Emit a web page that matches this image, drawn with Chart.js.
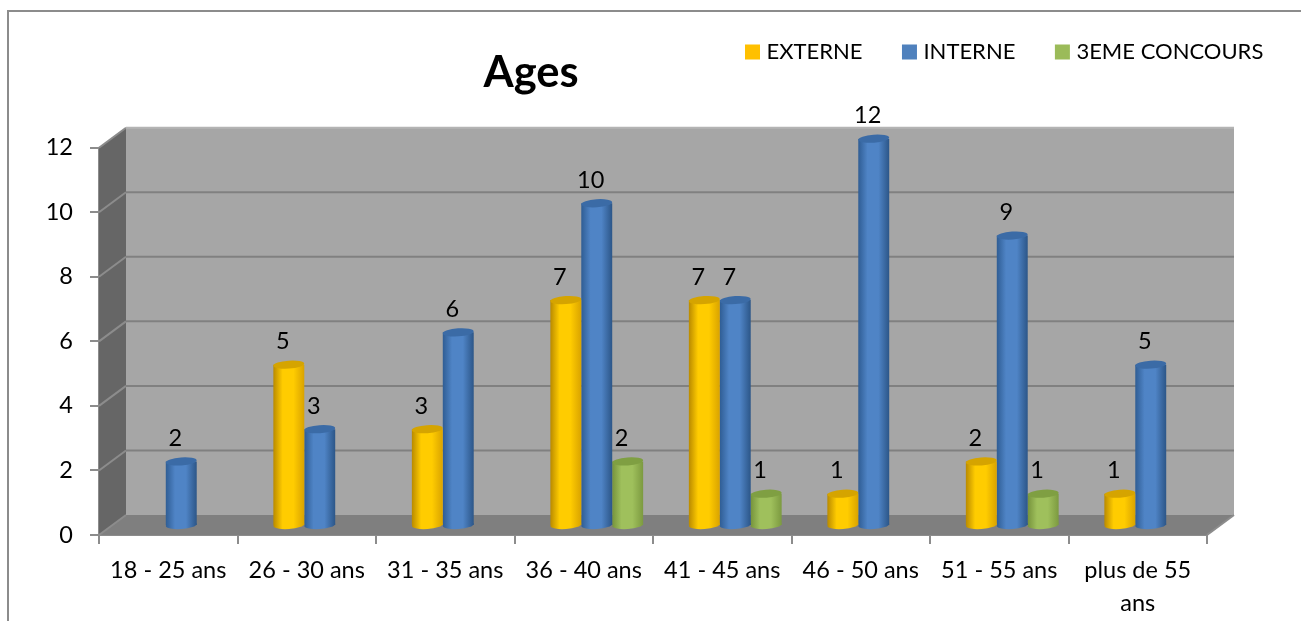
<!DOCTYPE html>
<html>
<head>
<meta charset="utf-8">
<title>Ages</title>
<script src="https://cdn.jsdelivr.net/npm/chart.js@4"></script>
<style>
  html, body { margin: 0; padding: 0; background: #fff; overflow: hidden; }
  canvas { display: block; }
</style>
</head>
<body>
<canvas id="ages" width="1301" height="621"></canvas>
<script>
var categories = ['18 - 25 ans', '26 - 30 ans', '31 - 35 ans', '36 - 40 ans', '41 - 45 ans', '46 - 50 ans', '51 - 55 ans', ['plus de 55', 'ans']];
var externe = [null, 5, 3, 7, 7, 1, 2, 1];
var interne = [2, 3, 6, 10, 7, 12, 9, 5];
var concours = [null, null, null, 2, 1, null, 1, null];
var yTicks = [0, 2, 4, 6, 8, 10, 12];

var fontName = 'Lato, "Open Sans", sans-serif';
var fontSize = 23.5;
var legendFontSize = 22;
var legendGap = 44;

// cylinder shades per series: edge left, middle, edge right, top cap
var shades = [
    ['#b98a00', '#ffcc00', '#d9a300', '#d5a400'],
    ['#2f5d94', '#4f84c6', '#2c5688', '#3b6ba6'],
    ['#76933c', '#9fc05c', '#7c9a40', '#7f9f42']
];

// how far the bars sit behind the front axes, and the back wall
var barShift = { x: 13, y: -9 };
var wallShift = { x: 27, y: -20 };

// gray box, side wall, floor and back grid lines
var wallsPlugin = {
    id: 'walls',
    beforeDatasetsDraw: function (chart) {
        var ctx = chart.ctx;
        var area = chart.chartArea;
        var y = chart.scales.y;
        var dx = wallShift.x, dy = wallShift.y;

        ctx.save();
        // frame of the picture
        ctx.strokeStyle = '#8c8c8c';
        ctx.lineWidth = 2;
        ctx.beginPath();
        ctx.moveTo(8, 621);
        ctx.lineTo(8, 11);
        ctx.lineTo(1301, 11);
        ctx.stroke();

        ctx.fillStyle = '#a6a6a6';
        ctx.fillRect(area.left + dx, area.top + dy, area.width, area.height);

        ctx.fillStyle = '#666666';
        ctx.beginPath();
        ctx.moveTo(area.left, area.top);
        ctx.lineTo(area.left + dx, area.top + dy);
        ctx.lineTo(area.left + dx, area.bottom + dy);
        ctx.lineTo(area.left, area.bottom);
        ctx.closePath();
        ctx.fill();

        ctx.fillStyle = '#7f7f7f';
        ctx.beginPath();
        ctx.moveTo(area.left, area.bottom);
        ctx.lineTo(area.left + dx, area.bottom + dy);
        ctx.lineTo(area.right + dx, area.bottom + dy);
        ctx.lineTo(area.right, area.bottom);
        ctx.closePath();
        ctx.fill();

        ctx.lineWidth = 2;
        yTicks.forEach(function (t) {
            var py = y.getPixelForValue(t);
            ctx.strokeStyle = '#8c8c8c';
            ctx.beginPath();
            ctx.moveTo(area.left, py);
            ctx.lineTo(area.left + dx, py + dy);
            ctx.stroke();
            if (t === 0) return;
            ctx.strokeStyle = t === 12 ? '#b4b4b4' : '#808080';
            ctx.beginPath();
            ctx.moveTo(area.left + dx, py + dy);
            ctx.lineTo(area.right + dx, py + dy);
            ctx.stroke();
        });
        ctx.strokeStyle = '#8c8c8c';
        ctx.beginPath();
        ctx.moveTo(area.right, area.bottom);
        ctx.lineTo(area.right + dx, area.bottom + dy);
        ctx.stroke();
        ctx.restore();

        // cylinder gradient for each bar, and move the bars back
        chart.data.datasets.forEach(function (ds, i) {
            chart.getDatasetMeta(i).data.forEach(function (el) {
                var half = el.width / 2;
                var g = ctx.createLinearGradient(el.x - half, 0, el.x + half, 0);
                g.addColorStop(0, shades[i][0]);
                g.addColorStop(0.3, shades[i][1]);
                g.addColorStop(0.65, shades[i][1]);
                g.addColorStop(1, shades[i][2]);
                el.options = Object.assign({}, el.options, { backgroundColor: g });
            });
        });
        ctx.save();
        ctx.translate(barShift.x, barShift.y);
    },
    afterDatasetDraw: function (chart, args) {
        var ctx = chart.ctx;
        var i = args.index;
        var values = chart.data.datasets[i].data;
        args.meta.data.forEach(function (el, k) {
            if (values[k] === null) return;
            var tilt = -0.07;
            ctx.fillStyle = el.options.backgroundColor;
            ctx.beginPath();
            ctx.ellipse(el.x, el.base, el.width / 2, 4, tilt, 0, Math.PI * 2);
            ctx.fill();
            ctx.fillStyle = shades[i][3];
            ctx.beginPath();
            ctx.ellipse(el.x, el.y, el.width / 2, 4, tilt, 0, Math.PI * 2);
            ctx.fill();
        });
    },
    afterDatasetsDraw: function (chart) {
        var ctx = chart.ctx;
        ctx.restore();

        // value labels
        ctx.save();
        ctx.fillStyle = '#000';
        ctx.font = fontSize + 'px ' + fontName;
        ctx.textAlign = 'center';
        ctx.textBaseline = 'middle';
        chart.data.datasets.forEach(function (ds, i) {
            chart.getDatasetMeta(i).data.forEach(function (el, k) {
                if (ds.data[k] === null) return;
                ctx.fillText(ds.data[k], el.x + barShift.x - 6, el.y + barShift.y - 23);
            });
        });
        ctx.restore();
    },
    // title and legend sit side by side on top of the chart
    afterUpdate: function (chart) {
        var t = chart.titleBlock;
        var tw = t.width;
        t.left = 531 - tw / 2;
        t.right = 531 + tw / 2;
        t.top = 47;
        t.bottom = t.top + t.height;

        var l = chart.legend;
        l.left = 749.5 - legendGap;
        l.right = 1500;
        l.width = l.right - l.left;
        l.top = 41 - legendGap;
        l.bottom = 80;
        l.height = l.bottom - l.top;
    }
};

new Chart(document.getElementById('ages').getContext('2d'), {
    type: 'bar',
    data: {
        labels: categories,
        datasets: [
            { label: 'EXTERNE', data: externe, backgroundColor: '#ffc000' },
            { label: 'INTERNE', data: interne, backgroundColor: '#4f81bd' },
            { label: '3EME CONCOURS', data: concours, backgroundColor: '#9bbb59' }
        ]
    },
    options: {
        responsive: false,
        animation: false,
        layout: { padding: { top: 63.5 - legendGap, left: 0, right: 94, bottom: 0 } },
        categoryPercentage: 0.67,
        barPercentage: 1,
        scales: {
            x: {
                afterFit: function (axis) { axis.height = 86; },
                grid: { drawOnChartArea: false, color: '#8c8c8c', lineWidth: 2, tickLength: 9 },
                border: { color: '#8c8c8c', width: 2 },
                ticks: { color: '#000', font: { family: fontName, size: fontSize, lineHeight: 1.4 }, padding: 10, maxRotation: 0, autoSkip: false }
            },
            y: {
                min: 0,
                max: 12,
                afterBuildTicks: function (axis) {
                    axis.ticks = yTicks.map(function (v) { return { value: v }; });
                },
                afterFit: function (axis) { axis.width = 99; },
                grid: { drawOnChartArea: false, color: '#8c8c8c', lineWidth: 2, tickLength: 9 },
                border: { color: '#8c8c8c', width: 2 },
                ticks: { color: '#000', font: { family: fontName, size: fontSize }, padding: 17 }
            }
        },
        plugins: {
            title: {
                display: true,
                text: 'Ages',
                color: '#000',
                font: { family: fontName, size: 43.5, weight: 'bold' },
                padding: { top: 0, bottom: 0 }
            },
            legend: {
                display: true,
                position: 'top',
                align: 'start',
                labels: {
                    color: '#000',
                    usePointStyle: true,
                    pointStyle: 'rect',
                    boxWidth: 6,
                    boxHeight: 15,
                    font: { family: fontName, size: legendFontSize },
                    padding: legendGap
                }
            },
            tooltip: { enabled: false }
        }
    },
    plugins: [wallsPlugin]
});
</script>
</body>
</html>
